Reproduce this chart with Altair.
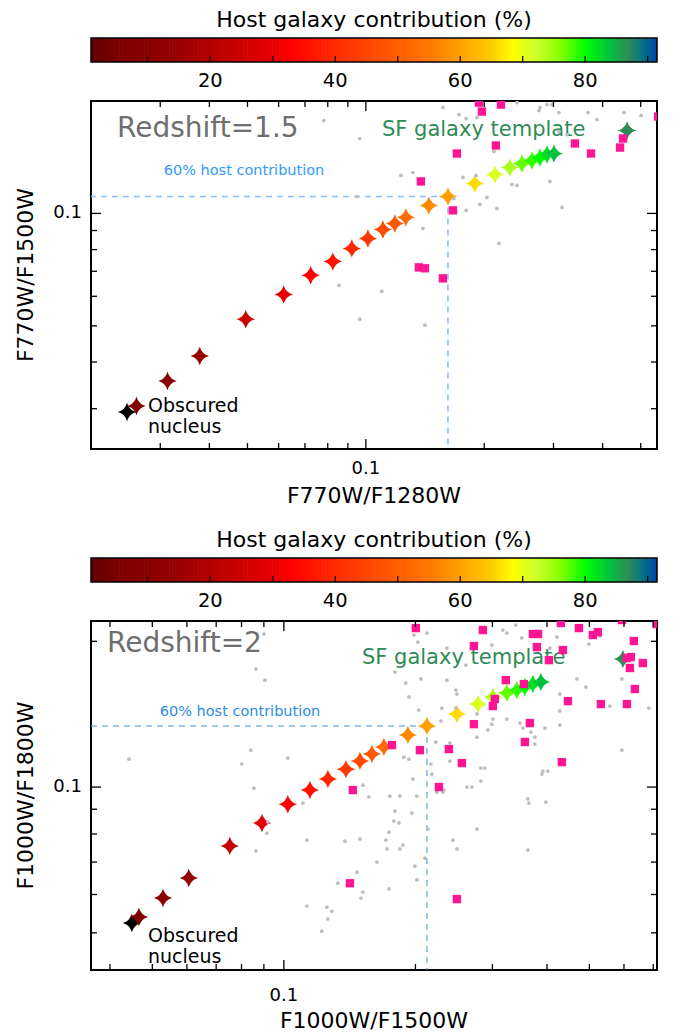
import altair as alt
import numpy as np
import pandas as pd

FONT = "DejaVu Sans"

# ---------------- data ----------------
host = [0, 6, 10, 14, 24, 29, 33, 36, 39, 42, 46, 49, 52, 57, 60, 66, 71, 74, 77, 78.5, 80, 82, 84, 87]

# Panel 1 (redshift 1.5)
p1_star_x = [0.0247, 0.0261, 0.0313, 0.0378, 0.0495, 0.0618, 0.0724, 0.0824, 0.0921, 0.1012, 0.1105, 0.1185,
             0.1264, 0.1446, 0.1617, 0.1893, 0.213, 0.2324, 0.2494, 0.2645, 0.2772, 0.2888, 0.3008, 0.4615]
p1_star_y = [0.0294, 0.0305, 0.0356, 0.0415, 0.0521, 0.0607, 0.0683, 0.0744, 0.0806, 0.0857, 0.0906, 0.094,
             0.0976, 0.105, 0.111, 0.1203, 0.1271, 0.1327, 0.1361, 0.1386, 0.1412, 0.1438, 0.1446, 0.1667]
p1_gray_x = [0.157, 0.1725, 0.180, 0.1916, 0.2423, 0.2755, 0.2772, 0.2888, 0.2973, 0.3097, 0.3672, 0.387, 0.4534,
             0.501, 0.0965, 0.3247, 0.3097, 0.2117, 0.1228, 0.1317, 0.1765, 0.1905, 0.2352, 0.2423, 0.2938, 0.1674,
             0.2032, 0.180, 0.195, 0.2154, 0.3153, 0.1396, 0.218, 0.0782, 0.0949, 0.0854, 0.0965, 0.1098, 0.1413]
p1_gray_y = [0.192, 0.184, 0.1795, 0.1806, 0.198, 0.1885, 0.192, 0.1956, 0.1956, 0.1862, 0.1862, 0.1784, 0.1862,
             0.1828, 0.1587, 0.1626, 0.1657, 0.1465, 0.1264, 0.1287, 0.1248, 0.1264, 0.1195, 0.1188, 0.1218, 0.1097,
             0.1104, 0.1019, 0.1057, 0.1031, 0.1038, 0.0912, 0.0831, 0.1773, 0.111, 0.0642, 0.0521, 0.0619, 0.0502]
p1_pink_x = [0.1939, 0.2206, 0.1973, 0.2142, 0.1704, 0.3402, 0.3737, 0.443, 0.4508, 0.5534, 0.138, 0.1665,
             0.1364, 0.1413, 0.157]
p1_pink_y = [0.198, 0.1956, 0.1874, 0.152, 0.1447, 0.1539, 0.1447, 0.1501, 0.1587, 0.1817, 0.1218, 0.1019,
             0.0717, 0.0713, 0.067]

# Panel 2 (redshift 2)
p2_star_x = [0.0449, 0.0466, 0.0529, 0.0606, 0.0752, 0.0891, 0.1021, 0.1147, 0.1261, 0.1387, 0.1493, 0.159,
             0.1694, 0.1922, 0.2125, 0.2489, 0.278, 0.3008, 0.3237, 0.3413, 0.356, 0.3713, 0.3873, 0.5968]
p2_star_y = [0.0524, 0.0539, 0.059, 0.0649, 0.0756, 0.0843, 0.0922, 0.0986, 0.1039, 0.1089, 0.1132, 0.117,
             0.121, 0.1281, 0.1337, 0.1416, 0.1484, 0.1535, 0.1564, 0.1586, 0.1609, 0.1632, 0.1648, 0.1839]
p2_gray_x = [0.0900, 0.0863, 0.0905, 0.0442, 0.0840, 0.0801, 0.1021, 0.0854, 0.1516, 0.1565, 0.1105, 0.1984,
             0.2125, 0.2026, 0.1795, 0.2058, 0.1901, 0.1932, 0.2036, 0.236, 0.236, 0.2299, 0.2475, 0.2488, 0.2475,
             0.2609, 0.2991, 0.317, 0.3237, 0.3395, 0.3503, 0.4061, 0.4213, 0.404, 0.4681, 0.4909, 0.428, 0.428,
             0.428, 0.4987, 0.5284, 0.5934, 0.5571, 0.6842, 0.5934, 0.2227, 0.2287, 0.2398, 0.2765, 0.293, 0.2991,
             0.3007, 0.3237, 0.3467, 0.3523, 0.3674, 0.3752, 0.3752, 0.3955, 0.2765, 0.2514, 0.2398, 0.2169, 0.2181,
             0.2287, 0.2323, 0.2623, 0.2693, 0.2823, 0.2884, 0.2823, 0.3914, 0.4018, 0.3894, 0.3616, 0.3635, 0.3976,
             0.1748, 0.1843, 0.2015, 0.1973, 0.1882, 0.1932, 0.1795, 0.0919, 0.0914, 0.0863, 0.1129, 0.1379, 0.1493,
             0.1633, 0.1469, 0.1329, 0.1516, 0.1501, 0.1129, 0.1254, 0.1288, 0.1261, 0.1221, 0.2239, 0.2311, 0.1785,
             0.1833, 0.1963, 0.1739, 0.1712, 0.1721, 0.1872, 0.1843, 0.2136, 0.2102, 0.1994, 0.2015, 0.1739, 0.2436,
             0.2488, 0.2765, 0.3616]
p2_gray_y = [0.207, 0.1753, 0.1663, 0.1142, 0.1192, 0.1116, 0.1148, 0.0995, 0.1009, 0.0954, 0.0927, 0.2061,
             0.208, 0.1993, 0.1728, 0.1672, 0.164, 0.1535, 0.1442, 0.1937, 0.1663, 0.1456, 0.1586, 0.1556, 0.1456,
             0.1787, 0.1965, 0.211, 0.208, 0.2161, 0.2032, 0.1937, 0.2041, 0.1847, 0.1672, 0.1609, 0.1556, 0.1436,
             0.1343, 0.1974, 0.2051, 0.1672, 0.147, 0.1456, 0.1192, 0.1239, 0.1369, 0.1233, 0.1268, 0.1312, 0.1349,
             0.1382, 0.1382, 0.1356, 0.1324, 0.1299, 0.1268, 0.1227, 0.1324, 0.1416, 0.1126, 0.1132, 0.1116, 0.1064,
             0.1, 0.0986, 0.1, 0.1, 0.1095, 0.1095, 0.1029, 0.1079, 0.1079, 0.1064, 0.0945, 0.0927, 0.0931,
             0.0958, 0.0958, 0.0958, 0.1039, 0.1153, 0.1142, 0.0892, 0.0847, 0.0803, 0.0738, 0.0777, 0.0773, 0.0781,
             0.07, 0.0667, 0.0633, 0.0607, 0.059, 0.0568, 0.0565, 0.0554, 0.0534, 0.0504, 0.0976, 0.0976, 0.0851,
             0.0843, 0.0884, 0.0807, 0.0777, 0.0745, 0.0759, 0.0745, 0.0819, 0.0713, 0.0687, 0.0643, 0.0616, 0.0777,
             0.0745, 0.0819, 0.0741]
p2_pink_x = [0.2004, 0.2853, 0.3713, 0.3815, 0.2721, 0.3792, 0.4349, 0.4303, 0.4732, 0.5093, 0.5229, 0.5934,
             0.7135, 0.6321, 0.6222, 0.6093, 0.6189, 0.6628, 0.404, 0.322, 0.3541, 0.3039, 0.3007, 0.4466, 0.5313,
             0.6093, 0.6355, 0.3654, 0.2721, 0.356, 0.1767, 0.2047, 0.2385, 0.2555, 0.4326, 0.2263, 0.1438, 0.1416,
             0.2488]
p2_pink_y = [0.213, 0.211, 0.2071, 0.2071, 0.1956, 0.1946, 0.1919, 0.2182, 0.213, 0.2061, 0.209, 0.2213,
             0.2171, 0.2003, 0.1856, 0.1847, 0.1762, 0.1804, 0.1829, 0.1663, 0.1632, 0.152, 0.147, 0.1505, 0.1484,
             0.1484, 0.1594, 0.1356, 0.1349, 0.1239, 0.1221, 0.1192, 0.1198, 0.1121, 0.1126, 0.1, 0.0986, 0.0633,
             0.0587]

# colour bar
cb_domain = [0, 1, 6, 14, 24, 29, 33, 40, 48, 55, 60, 65, 68.5, 72, 76, 80, 84, 87, 89.5, 91.5]
cb_range = ["#000000", "#600000", "#800000", "#960000", "#c80000", "#e40000", "#ff0000", "#ff2c00",
            "#ff5400", "#ff7800", "#ffa000", "#ffcc00", "#ffff00", "#ccff30", "#88ff00", "#00ff00",
            "#00c040", "#2e8b57", "#00708a", "#0040a8"]
cb_min, cb_max = 0.9, 91.5
cb_ticks = [10, 20, 30, 40, 50, 60, 70, 80, 90]
cb_labels = [20, 40, 60, 80]

# axes
major = [0.1]
x1_dom, y1_dom = [0.02, 0.55], [0.0234, 0.2]
x2_dom, y2_dom = [0.0362, 0.714], [0.0419, 0.2203]
x1_minor = [0.03, 0.04, 0.05, 0.06, 0.07, 0.08, 0.09, 0.2, 0.3, 0.4, 0.5]
y1_minor = [0.03, 0.04, 0.05, 0.06, 0.07, 0.08, 0.09]
x2_minor = [0.04, 0.05, 0.06, 0.07, 0.08, 0.09, 0.2, 0.3, 0.4, 0.5, 0.6, 0.7]
y2_minor = [0.05, 0.06, 0.07, 0.08, 0.09, 0.2]

W = 566
STAR = "M0,-1 Q0.22,-0.22 1,0 Q0.22,0.22 0,1 Q-0.22,0.22 -1,0 Q-0.22,-0.22 0,-1 Z"
cscale = alt.Scale(domain=cb_domain, range=cb_range, interpolate="rgb")
cbx = alt.Scale(domain=[cb_min, cb_max], nice=False, zero=False)


def txt(s, x, y, size, color, align="left", angle=0, baseline="middle", **kw):
    return alt.Chart(pd.DataFrame({"t": [s]})).mark_text(
        align=align, baseline=baseline, fontSize=size, color=color, font=FONT, angle=angle, **kw
    ).encode(text="t:N", x=alt.value(x), y=alt.value(y))


def panel(sx, sy, gx, gy, qx, qy, xdom, ydom, H, xminor, yminor, xtitle, ytitle, xlab_dy, xtitle_dy,
          rs_text, rs_pos, sf_pos, lab_pos, lab_color, dash_color, dash_w, ob_pos):
    xs = alt.Scale(type="log", domain=xdom, nice=False)
    ys = alt.Scale(type="log", domain=ydom, nice=False)
    stars = pd.DataFrame({"x": sx, "y": sy, "host": host})
    gray = pd.DataFrame({"x": gx, "y": gy})
    pink = pd.DataFrame({"x": qx, "y": qy})

    X = lambda f="x:Q": alt.X(f, scale=xs, axis=None)
    Y = lambda f="y:Q": alt.Y(f, scale=ys, axis=None)

    s60 = alt.Chart(stars).transform_filter("datum.host == 60")
    hline = s60.mark_rule(color=dash_color, strokeDash=[6, 5], strokeWidth=dash_w).encode(
        x=X(), x2=alt.value(0), y=Y())
    vline = s60.mark_rule(color=dash_color, strokeDash=[6, 5], strokeWidth=dash_w).encode(
        x=X(), y=Y(), y2=alt.value(H))

    star_layer = alt.Chart(stars).mark_point(
        shape=STAR, filled=True, size=340, opacity=1, strokeWidth=0, clip=True
    ).encode(x=X(), y=Y(), color=alt.Color("host:Q", scale=cscale, legend=None))

    gray_layer = alt.Chart(gray).mark_circle(size=14, color="#bdbdbd", opacity=1, clip=True).encode(
        x=X(), y=Y())
    pink_layer = alt.Chart(pink).mark_square(size=70, color="#ff1493", opacity=1, clip=True).encode(
        x=X(), y=Y())

    def xt(vals, length, top):
        y0, y1 = (0, length) if top else (H, H - length)
        return alt.Chart(pd.DataFrame({"v": vals})).mark_rule(color="black", strokeWidth=1.3).encode(
            x=X("v:Q"), y=alt.value(y0), y2=alt.value(y1))

    def yt(vals, length, right):
        x0, x1 = (W, W - length) if right else (0, length)
        return alt.Chart(pd.DataFrame({"v": vals})).mark_rule(color="black", strokeWidth=1.3).encode(
            y=Y("v:Q"), x=alt.value(x0), x2=alt.value(x1))

    ticks = [xt(xminor, 6, False), xt(major, 10, False), xt(xminor, 6, True), xt(major, 10, True),
             yt(yminor, 6, False), yt(major, 10, False), yt(yminor, 6, True), yt(major, 10, True)]

    # axis labels & titles
    lab_df = pd.DataFrame({"v": major})
    xlab = alt.Chart(lab_df).mark_text(fontSize=18, font=FONT, color="black", baseline="middle").encode(
        x=X("v:Q"), y=alt.value(H + xlab_dy), text=alt.Text("v:Q", format=".1f"))
    ylab = alt.Chart(lab_df).mark_text(fontSize=18, font=FONT, color="black", baseline="middle",
                                       align="right").encode(
        y=Y("v:Q"), x=alt.value(-9), text=alt.Text("v:Q", format=".1f"))
    xtit = txt(xtitle, W / 2, H + xtitle_dy, 22, "black", align="center")
    ytit = txt(ytitle, -65, H / 2, 22, "black", align="center", angle=270)

    # colour bar above the panel
    steps = np.arange(cb_min, cb_max, 0.5)
    cb_df = pd.DataFrame({"lo": steps, "hi": np.minimum(steps + 0.6, cb_max), "mid": steps + 0.25})
    cb_rect = alt.Chart(cb_df).mark_rect().encode(
        x=alt.X("lo:Q", scale=cbx, axis=None), x2="hi:Q", y=alt.value(-63), y2=alt.value(-39),
        color=alt.Color("mid:Q", scale=cscale, legend=None))
    cb_frame = alt.Chart(pd.DataFrame({"a": [cb_min], "b": [cb_max]})).mark_rect(
        fill=None, stroke="black", strokeWidth=1.5).encode(
        x=alt.X("a:Q", scale=cbx, axis=None), x2="b:Q", y=alt.value(-63), y2=alt.value(-39))
    cb_tick = alt.Chart(pd.DataFrame({"v": cb_ticks})).mark_rule(color="black", strokeWidth=1.2).encode(
        x=alt.X("v:Q", scale=cbx, axis=None), y=alt.value(-39), y2=alt.value(-45))
    cb_lab = alt.Chart(pd.DataFrame({"v": cb_labels})).mark_text(
        fontSize=19.5, font=FONT, color="black", baseline="middle").encode(
        x=alt.X("v:Q", scale=cbx, axis=None), y=alt.value(-20), text=alt.Text("v:Q", format="d"))
    cb_title = txt("Host galaxy contribution (%)", W / 2, -81, 22, "black", align="center")

    layers = [
        txt("SF galaxy template", sf_pos[0], sf_pos[1], 21, "#2e8b57"),
        txt("60% host contribution", lab_pos[0], lab_pos[1], 14.5, lab_color, align="center"),
        hline, vline, star_layer, gray_layer, pink_layer,
        txt(rs_text, rs_pos[0], rs_pos[1], 28, "#6e6e6e"),
        txt("Obscured\nnucleus", ob_pos[0], ob_pos[1], 19, "black", baseline="top",
            lineBreak="\n", lineHeight=21),
        *ticks,
        xlab, ylab, xtit, ytit,
        cb_rect, cb_frame, cb_tick, cb_lab, cb_title,
    ]
    return alt.layer(*layers).resolve_scale(x="independent").properties(width=W, height=H)


p1 = panel(p1_star_x, p1_star_y, p1_gray_x, p1_gray_y, p1_pink_x, p1_pink_y, x1_dom, y1_dom, 348,
           x1_minor, y1_minor, "F770W/F1280W", "F770W/F1500W", 20, 47,
           "Redshift=1.5", (26, 28), (291, 29), (153, 70), "#3399ff", "#80c0ff", 1.6, (57, 296))
p2 = panel(p2_star_x, p2_star_y, p2_gray_x, p2_gray_y, p2_pink_x, p2_pink_y, x2_dom, y2_dom, 349,
           x2_minor, y2_minor, "F1000W/F1500W", "F1000W/F1800W", 26, 51,
           "Redshift=2", (16, 23), (271, 37), (149, 91), "#2b8ce6", "#3a90e0", 1.0, (57, 306))

chart = alt.vconcat(p1, p2, spacing=172, bounds="flush").properties(
    padding={"left": 6, "top": 0, "right": 0, "bottom": 0}
).configure_view(stroke="black", strokeWidth=2)

chart.save("out.html", embed_options={"renderer": "svg", "actions": False})
